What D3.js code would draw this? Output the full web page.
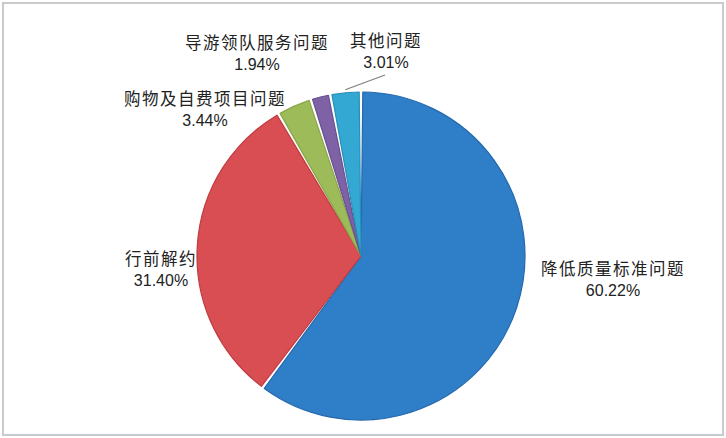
<!DOCTYPE html>
<html>
<head>
<meta charset="utf-8">
<script src="https://cdn.jsdelivr.net/npm/d3@7"></script>
<style>
  html, body { margin: 0; padding: 0; background: #fff; }
  svg { display: block; }
  text { fill: #222; }
  .cat { font-family: "Noto Sans CJK SC", sans-serif; }
  .pct { font-family: "Liberation Sans", Arial, sans-serif; }
</style>
</head>
<body>
<svg id="chart" width="726" height="438"></svg>
<script>
// DATA
var categories = ["降低质量标准问题", "行前解约", "购物及自费项目问题", "导游领队服务问题", "其他问题"];
var values = [60.22, 31.40, 3.44, 1.94, 3.01];
var valueLabels = ["60.22%", "31.40%", "3.44%", "1.94%", "3.01%"];

// colours (fill, outline)
var fills = ["#2f7ec8", "#d84e53", "#9dbb59", "#7f62a6", "#33a8d3"];
var strokes = ["#2568ad", "#bf3b40", "#87a646", "#684f8f", "#2790b8"];

// label anchors (centre x, baseline of first line)
var labelPos = [[613, 275], [161, 265], [205, 105], [257, 49], [386, 47]];
var lineGap = 21;

var width = 726, height = 438;
var cx = 361, cy = 256, radius = 164;

var svg = d3.select("#chart");

// frame
svg.append("rect")
  .attr("x", 3).attr("y", 3)
  .attr("width", width - 6).attr("height", height - 6)
  .attr("fill", "#fff")
  .attr("stroke", "#c8cacc")
  .attr("stroke-width", 2);

var pie = d3.pie().sort(null).value(function(d) { return d; });
var arcs = pie(values);

var arc = d3.arc()
  .innerRadius(0)
  .outerRadius(radius)
  .padAngle(0.022)
  .padRadius(radius);

var g = svg.append("g").attr("transform", "translate(" + cx + "," + cy + ")");

g.selectAll("path.slice")
  .data(arcs)
  .enter()
  .append("path")
  .attr("class", "slice")
  .attr("d", arc)
  .attr("fill", function(d, i) { return fills[i]; })
  .attr("stroke", function(d, i) { return strokes[i]; })
  .attr("stroke-width", 1.2)
  .attr("stroke-linejoin", "round");

// leader line for the small "其他问题" slice
var other = arcs[4];
var mid = (other.startAngle + other.endAngle) / 2;
var x1 = cx + Math.sin(mid) * (radius + 3), y1 = cy - Math.cos(mid) * (radius + 3);
svg.append("line")
  .attr("x1", x1).attr("y1", y1)
  .attr("x2", labelPos[4][0] - 1).attr("y2", labelPos[4][1] + lineGap + 7)
  .attr("stroke", "#808080")
  .attr("stroke-width", 1.3);

// labels: category line + percentage line
svg.selectAll("text.cat")
  .data(categories)
  .enter()
  .append("text")
  .attr("class", "cat")
  .attr("x", function(d, i) { return labelPos[i][0]; })
  .attr("y", function(d, i) { return labelPos[i][1]; })
  .attr("text-anchor", "middle")
  .attr("font-size", 16.5)
  .attr("letter-spacing", 1.5)
  .text(function(d) { return d; });

svg.selectAll("text.pct")
  .data(valueLabels)
  .enter()
  .append("text")
  .attr("class", "pct")
  .attr("x", function(d, i) { return labelPos[i][0]; })
  .attr("y", function(d, i) { return labelPos[i][1] + lineGap; })
  .attr("text-anchor", "middle")
  .attr("font-size", 16)
  .text(function(d) { return d; });
</script>
</body>
</html>
